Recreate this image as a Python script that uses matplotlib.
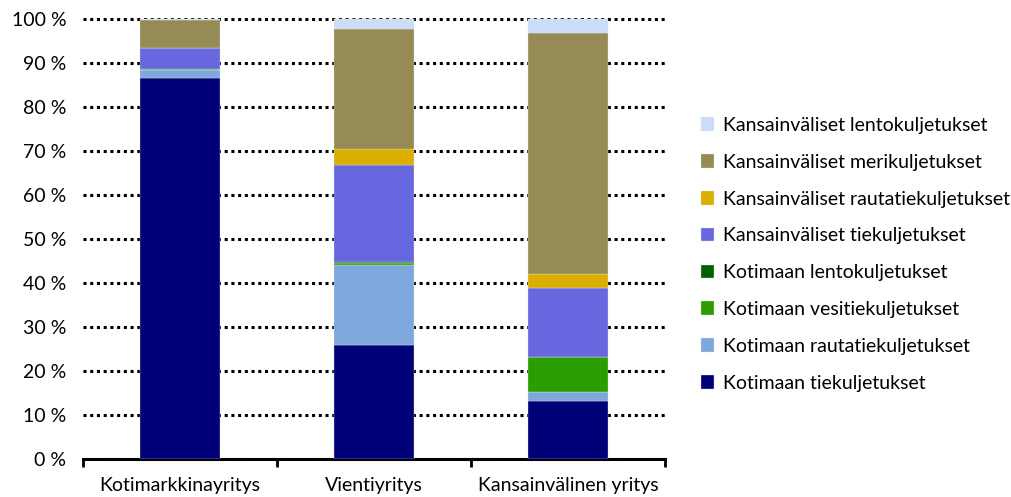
import numpy as np
import matplotlib
matplotlib.use('Agg')
import matplotlib.pyplot as plt
from matplotlib.ticker import FixedLocator

plt.rcParams['font.family'] = ['Lato', 'DejaVu Sans']

categories = ["Kotimarkkinayritys", "Vientiyritys", "Kansainvälinen yritys"]

# osuudet (%) alhaalta ylös
kot_tie = [86.6, 26.0, 13.1]
kot_rauta = [1.8, 18.2, 2.2]
kot_vesi = [0.4, 0.4, 8.0]
kot_lento = [0.0, 0.1, 0.0]
kv_tie = [4.6, 22.1, 15.6]
kv_rauta = [0.0, 3.7, 3.1]
kv_meri = [6.4, 27.3, 55.0]
kv_lento = [0.2, 2.2, 3.0]

series = [
    ("Kotimaan tiekuljetukset", kot_tie, "#000078"),
    ("Kotimaan rautatiekuljetukset", kot_rauta, "#7EA8DC"),
    ("Kotimaan vesitiekuljetukset", kot_vesi, "#2A9E00"),
    ("Kotimaan lentokuljetukset", kot_lento, "#006100"),
    ("Kansainväliset tiekuljetukset", kv_tie, "#6767E0"),
    ("Kansainväliset rautatiekuljetukset", kv_rauta, "#DBAE00"),
    ("Kansainväliset merikuljetukset", kv_meri, "#968B54"),
    ("Kansainväliset lentokuljetukset", kv_lento, "#CCDDFA"),
]

fig = plt.figure(figsize=(10.12, 4.97), dpi=100)
ax = fig.add_axes([0.082, 0.0765, 0.575, 0.888])

x = np.arange(len(categories))
bottom = np.zeros(len(categories))
handles = []
for name, vals, col in series:
    b = ax.bar(x, vals, width=0.41, bottom=bottom, color=col, label=name,
               edgecolor="#e4e4e4", linewidth=0.25, zorder=3)
    handles.append(b)
    bottom += np.array(vals)

ax.set_xlim(-0.5, 2.5)
ax.set_ylim(0, 100.4)
ax.set_yticks(np.arange(0, 101, 10))
ax.set_yticklabels([f"{v} %" for v in range(0, 101, 10)], fontsize=14)
ax.yaxis.grid(True, color="black", linestyle=(0, (1, 1.2)), linewidth=2.2, zorder=1)
ax.set_axisbelow(True)
ax.tick_params(axis='y', length=0, pad=12)

ax.set_xticks(x)
ax.set_xticklabels(categories, fontsize=14)
ax.tick_params(axis='x', which='major', length=0, pad=13)
ax.xaxis.set_minor_locator(FixedLocator([-0.5, 0.5, 1.5, 2.5]))
ax.tick_params(axis='x', which='minor', length=6, width=2, direction='out')

for s in ["left", "right", "top"]:
    ax.spines[s].set_visible(False)
ax.spines["bottom"].set_linewidth(2.2)

leg = fig.legend(handles[::-1], [s[0] for s in series][::-1], loc="upper left",
                 bbox_to_anchor=(0.675, 0.8), frameon=False, fontsize=14,
                 handlelength=0.7, handleheight=0.7, handletextpad=0.45,
                 labelspacing=1.02)

plt.savefig("out.png", dpi=100)
plt.close()
